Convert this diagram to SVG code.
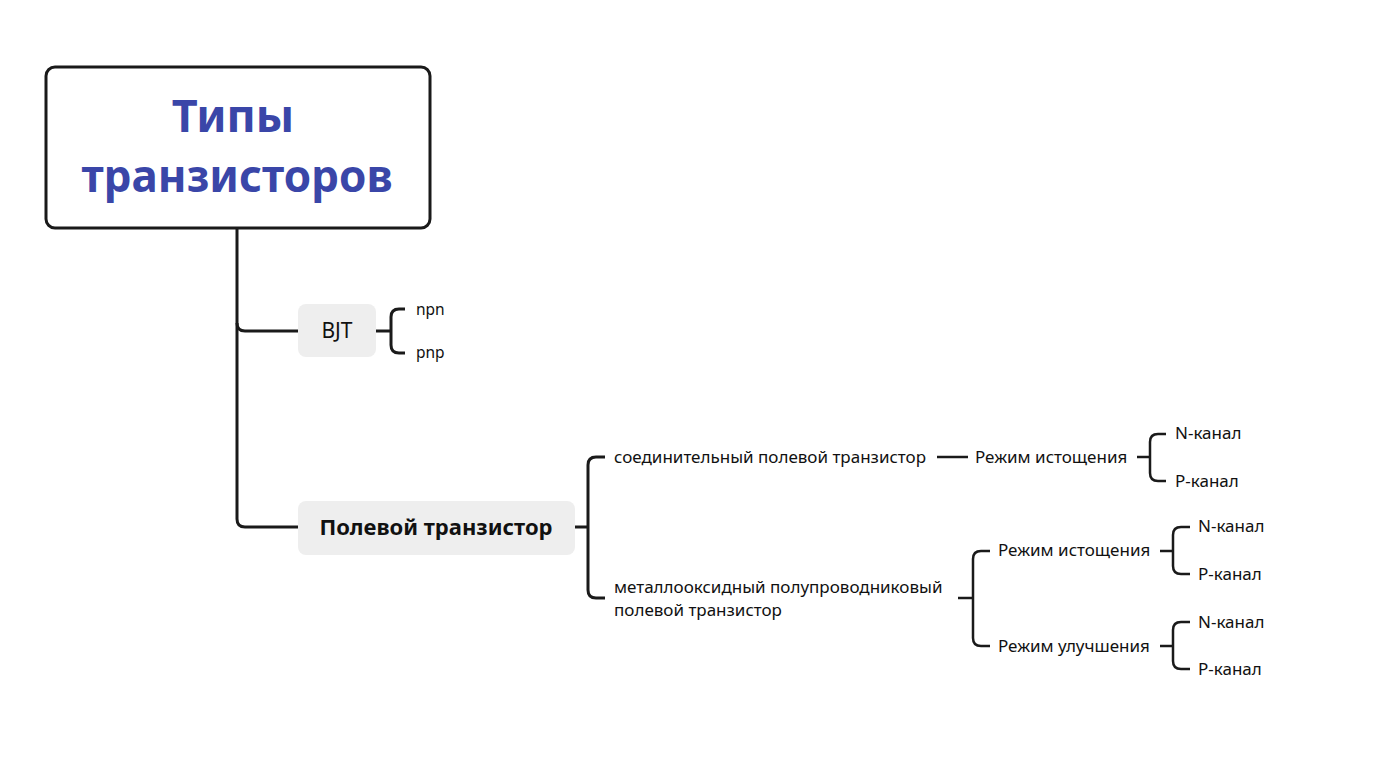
<svg xmlns="http://www.w3.org/2000/svg" width="1390" height="772" viewBox="0 0 1390 772">
<style>
.ln{fill:none;stroke:#1a1a1a;stroke-width:3;stroke-linecap:butt;stroke-linejoin:round}
.ln2{fill:none;stroke:#1a1a1a;stroke-width:2.5;stroke-linejoin:round}
.t{font-family:"Noto Sans","Open Sans","Liberation Sans",sans-serif;fill:#111;font-size:17px}
.s{font-size:15.5px}
.pill{fill:#eeeeee}
</style>
<rect width="1390" height="772" fill="#ffffff"/>
<g id="connectors">
<path class="ln" d="M237,228 V519 Q237,527 245,527 H298"/>
<path class="ln" d="M237,323 Q237,331 245,331 H298"/>
<path class="ln" d="M376,331 H391"/>
<path class="ln" d="M405,309 H399 Q391,309 391,317 V345 Q391,353 399,353 H405"/>
<path class="ln" d="M575,527 H588"/>
<path class="ln" d="M605,457 H596 Q588,457 588,465 V590 Q588,598 596,598 H605"/>
<path class="ln2" d="M937,457 H968"/>
<path class="ln2" d="M1137,457 H1150"/>
<path class="ln2" d="M1166,434 H1158 Q1150,434 1150,442 V473 Q1150,481 1158,481 H1166"/>
<path class="ln2" d="M958,598 H973"/>
<path class="ln2" d="M990,551 H981 Q973,551 973,559 V638 Q973,646 981,646 H990"/>
<path class="ln2" d="M1160,551 H1173"/>
<path class="ln2" d="M1190,527 H1181 Q1173,527 1173,535 V566 Q1173,574 1181,574 H1190"/>
<path class="ln2" d="M1160,646 H1173"/>
<path class="ln2" d="M1190,622 H1181 Q1173,622 1173,630 V661 Q1173,669 1181,669 H1190"/>
</g>
<g id="root">
<rect x="46" y="67" width="384" height="161" rx="9" fill="#ffffff" stroke="#1a1a1a" stroke-width="3"/>
<text class="t" x="233" y="132" text-anchor="middle" style="font-size:45px;font-weight:700;fill:#3a46a8">Типы</text>
<text class="t" x="237" y="192" text-anchor="middle" style="font-size:44px;font-weight:700;fill:#3a46a8">транзисторов</text>
</g>
<g id="bjt">
<rect class="pill" x="298" y="304" width="78" height="53" rx="8"/>
<text class="t" x="337" y="338" text-anchor="middle" style="font-size:21px">BJT</text>
</g>
<g id="npn"><text class="t s" x="416" y="315">npn</text></g>
<g id="pnp"><text class="t s" x="416" y="358">pnp</text></g>
<g id="fet">
<rect class="pill" x="298" y="501" width="277" height="54" rx="8"/>
<text class="t" x="436" y="535" text-anchor="middle" style="font-size:22px;font-weight:700">Полевой транзистор</text>
</g>
<g id="jfet"><text class="t" x="614" y="463">соединительный полевой транзистор</text></g>
<g id="jfet-depl"><text class="t" x="975" y="463">Режим истощения</text></g>
<g id="jfet-n"><text class="t" x="1175" y="439">N-канал</text></g>
<g id="jfet-p"><text class="t" x="1175" y="487">P-канал</text></g>
<g id="mosfet"><text class="t" x="614" y="593">металлооксидный полупроводниковый</text><text class="t" x="614" y="616">полевой транзистор</text></g>
<g id="mos-depl"><text class="t" x="998" y="556">Режим истощения</text></g>
<g id="mos-depl-n"><text class="t" x="1198" y="532">N-канал</text></g>
<g id="mos-depl-p"><text class="t" x="1198" y="580">P-канал</text></g>
<g id="mos-enh"><text class="t" x="998" y="652">Режим улучшения</text></g>
<g id="mos-enh-n"><text class="t" x="1198" y="628">N-канал</text></g>
<g id="mos-enh-p"><text class="t" x="1198" y="675">P-канал</text></g>
</svg>
